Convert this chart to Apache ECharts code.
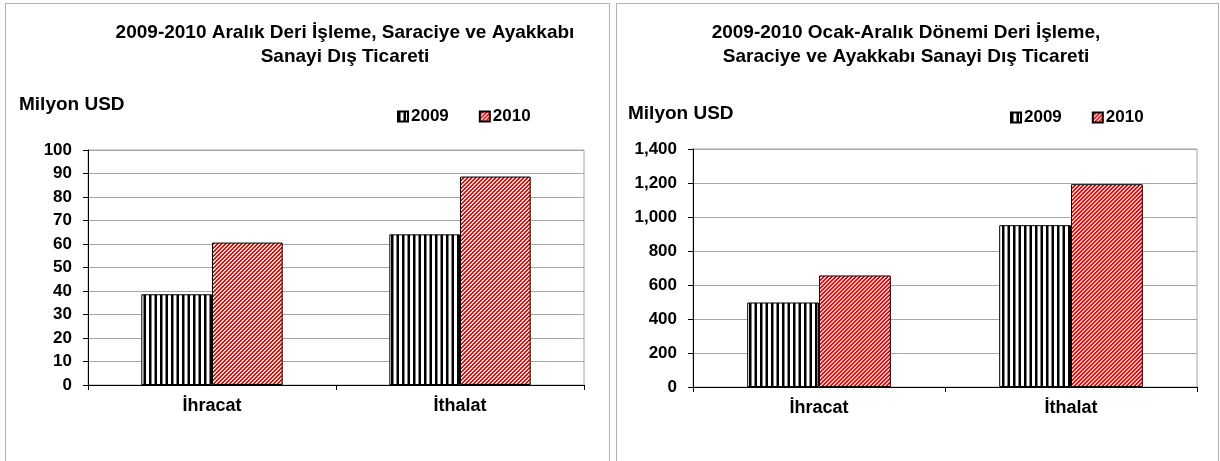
<!DOCTYPE html>
<html>
<head>
<meta charset="utf-8">
<script src="https://cdn.jsdelivr.net/npm/echarts@6/dist/echarts.min.js"></script>
<style>
 body { margin: 0; background: #fff; }
 .panel { position: absolute; top: 3px; height: 470px; border: 1px solid #b4b4b4; background: #fff; }
 #left { left: 5px; width: 603px; }
 #right { left: 616px; width: 601px; }
</style>
</head>
<body>
<div id="left" class="panel"></div>
<div id="right" class="panel"></div>
<script>
var categories = ['İhracat', 'İthalat'];
var years = ['2009', '2010'];

// Aralık (Milyon USD)
var aralik2009 = [38.6, 64.1];
var aralik2010 = [60.6, 88.7];
var aralikTicks = [0, 100, 10];

// Ocak-Aralık (Milyon USD)
var yil2009 = [497, 952];
var yil2010 = [656, 1193];
var yilTicks = [0, 1400, 200];

var unitText = 'Milyon USD';
var leftTitle = '2009-2010 Aralık Deri İşleme, Saraciye ve Ayakkabı\nSanayi Dış Ticareti';
var rightTitle = '2009-2010 Ocak-Aralık Dönemi Deri İşleme,\nSaraciye ve Ayakkabı Sanayi Dış Ticareti';

var FONT = '"Liberation Sans", Arial, sans-serif';

// siyah dikey çizgili desen
function verticalTile() {
 var c = document.createElement('canvas');
 c.width = 11; c.height = 4;
 var ctx = c.getContext('2d');
 ctx.fillStyle = '#fff';
 ctx.fillRect(0, 0, 11, 4);
 ctx.fillStyle = '#000';
 ctx.fillRect(0, 0, 2.5, 4);
 ctx.fillRect(5.5, 0, 2.5, 4);
 return c;
}

// kırmızı çapraz çizgili desen
function diagonalTile() {
 var n = 4;
 var c = document.createElement('canvas');
 c.width = n; c.height = n;
 var ctx = c.getContext('2d');
 for (var x = 0; x < n; x++) {
  for (var y = 0; y < n; y++) {
   var k = (x + y) % n;
   ctx.fillStyle = k == 0 ? '#ffffff' : (k == 1 ? '#ffb8b8' : '#ff0000');
   ctx.fillRect(x, y, 1, 1);
  }
 }
 return c;
}

var fill2009 = { image: verticalTile(), repeat: 'repeat' };
var fill2010 = { image: diagonalTile(), repeat: 'repeat' };

function initChart(dom, cfg) {
 var chart = echarts.init(dom, null, { renderer: 'canvas' });
 var option = {
  animation: false,
  textStyle: { fontFamily: FONT },
  graphic: [
   {
    type: 'text', x: cfg.titleX, y: 17,
    style: {
     text: cfg.title, align: 'center', verticalAlign: 'top',
     font: 'bold 19px ' + FONT, lineHeight: 24, fill: '#000'
    }
   },
   {
    type: 'text', x: cfg.unitX, y: cfg.unitY,
    style: {
     text: unitText, align: 'left', verticalAlign: 'middle',
     font: 'bold 19px ' + FONT, fill: '#000'
    }
   }
  ],
  legend: {
   data: years,
   left: cfg.legendX,
   top: cfg.legendY,
   padding: 0,
   itemWidth: 10,
   itemHeight: 10,
   itemGap: 30,
   icon: 'rect',
   textStyle: { fontSize: 17, fontWeight: 'bold', color: '#000', fontFamily: FONT, padding: [0, 0, 0, -2] }
  },
  grid: {
   left: cfg.grid[0], top: cfg.grid[1], width: cfg.grid[2], height: cfg.grid[3],
   show: true, borderColor: '#a6a6a6', borderWidth: 1
  },
  xAxis: {
   type: 'category',
   data: categories,
   axisLine: { lineStyle: { color: '#000', width: 1 } },
   axisTick: { show: true, length: 5, lineStyle: { color: '#000' } },
   axisLabel: { fontSize: 18, fontWeight: 'bold', color: '#000', margin: 12, fontFamily: FONT }
  },
  yAxis: {
   type: 'value',
   min: cfg.ticks[0], max: cfg.ticks[1], interval: cfg.ticks[2],
   axisLine: { show: true, lineStyle: { color: '#000', width: 1 } },
   axisTick: { show: true, length: 5, lineStyle: { color: '#000' } },
   axisLabel: {
    fontSize: 17, fontWeight: 'bold', color: '#000', margin: 16, fontFamily: FONT,
    formatter: function (v) { return echarts.format.addCommas(v); }
   },
   splitLine: { lineStyle: { color: '#a6a6a6', width: 1 } }
  },
  series: [
   {
    name: years[0], type: 'bar', data: cfg.s2009,
    barGap: '0%', barCategoryGap: '43%',
    itemStyle: { color: fill2009, borderColor: '#000', borderWidth: 1 }
   },
   {
    name: years[1], type: 'bar', data: cfg.s2010,
    barGap: '0%', barCategoryGap: '43%',
    itemStyle: { color: fill2010, borderColor: '#000', borderWidth: 1 }
   }
  ]
 };
 chart.setOption(option);
 return chart;
}

initChart(document.getElementById('left'), {
 title: leftTitle, titleX: 339,
 unitX: 13, unitY: 101,
 legendX: 391, legendY: 104,
 grid: [82, 146, 496, 235],
 ticks: aralikTicks,
 s2009: aralik2009, s2010: aralik2010
});

initChart(document.getElementById('right'), {
 title: rightTitle, titleX: 289,
 unitX: 11, unitY: 110,
 legendX: 393, legendY: 105,
 grid: [76, 145, 504, 238],
 ticks: yilTicks,
 s2009: yil2009, s2010: yil2010
});
</script>
</body>
</html>
